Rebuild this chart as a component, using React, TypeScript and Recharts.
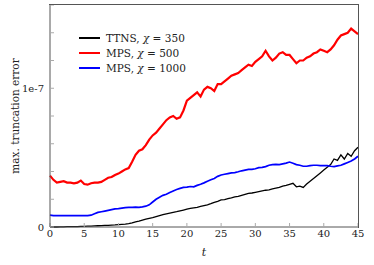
import { Label, Line, LineChart, XAxis, YAxis } from "recharts";

// values in units of 1e-8, sampled every 0.5 in t
const times = Array.from({ length: 91 }, (_, i) => i * 0.5);

const ttns350 = [
  0, 0, 0, 0.01, 0.01, 0.02, 0.02, 0.03, 0.03, 0.04,
  0.05, 0.06, 0.07, 0.08, 0.09, 0.1, 0.11, 0.12, 0.14, 0.15,
  0.17, 0.19, 0.21, 0.24, 0.3, 0.37, 0.43, 0.5, 0.56, 0.62,
  0.68, 0.75, 0.82, 0.89, 0.95, 1.0, 1.05, 1.1, 1.16, 1.22,
  1.28, 1.34, 1.38, 1.42, 1.48, 1.54, 1.6, 1.68, 1.78, 1.85,
  1.95, 1.98, 2.05, 2.1, 2.17, 2.2, 2.28, 2.35, 2.42, 2.45,
  2.5, 2.55, 2.6, 2.65, 2.68, 2.75, 2.8, 2.85, 2.95, 3.0,
  3.08, 3.15, 2.9, 2.95, 2.85, 3.1, 3.3, 3.5, 3.7, 3.9,
  4.1, 4.3, 4.5, 4.9, 4.8, 5.2, 4.9, 5.3, 5.1, 5.5,
  5.75,
];

const mps500 = [
  3.7, 3.4, 3.2, 3.25, 3.3, 3.2, 3.2, 3.15, 3.2, 3.35,
  3.1, 3.05, 3.15, 3.2, 3.2, 3.25, 3.4, 3.55, 3.6, 3.75,
  3.85, 4.0, 4.15, 4.25, 4.7, 5.2, 5.5, 5.6, 5.9, 6.3,
  6.6, 6.8, 7.1, 7.4, 7.7, 7.9, 8.0, 7.8, 7.9, 8.4,
  9.1, 9.3, 9.5, 9.7, 9.4, 9.9, 10.1, 10.0, 9.8, 10.3,
  10.3, 10.5, 10.7, 10.9, 11.0, 11.1, 11.3, 11.5, 11.7, 11.6,
  11.9, 12.1, 12.3, 12.7, 12.3, 12.0, 12.2, 12.5, 12.6, 12.4,
  12.4, 12.1, 11.8, 12.0, 12.0, 12.2, 12.3, 12.5, 12.6, 12.8,
  12.7, 12.6, 12.8, 13.1, 13.5, 13.8, 13.9, 14.0, 14.3, 14.1,
  13.9,
];

const mps1000 = [
  0.85, 0.82, 0.82, 0.82, 0.82, 0.82, 0.82, 0.82, 0.82, 0.82,
  0.82, 0.82, 0.85, 0.95, 1.05, 1.1, 1.15, 1.2, 1.25, 1.3,
  1.32, 1.36, 1.4, 1.42, 1.42, 1.43, 1.42, 1.45, 1.5, 1.6,
  1.8, 2.0, 2.15, 2.28, 2.36, 2.48, 2.6, 2.7, 2.78, 2.85,
  2.88, 2.92, 2.9, 3.0, 3.08, 3.18, 3.3, 3.4, 3.5, 3.65,
  3.75, 3.8, 3.85, 3.9, 3.92, 3.98, 4.05, 4.1, 4.15, 4.15,
  4.2, 4.28, 4.3, 4.35, 4.45, 4.5, 4.52, 4.5, 4.55, 4.6,
  4.68, 4.6, 4.5, 4.45, 4.38, 4.38, 4.42, 4.45, 4.45, 4.42,
  4.42, 4.42, 4.38, 4.35, 4.4, 4.45, 4.55, 4.65, 4.75, 4.9,
  5.1,
];

const xTicks = [0, 5, 10, 15, 20, 25, 30, 35, 40, 45];
const yTicks = [0, 2, 4, 6, 8, 10, 12, 14, 16];
const yLabels: Record<number, string> = { 0: "0", 10: "1e-7" };

const series = [
  { key: "ttns", name: "TTNS", chi: "350", color: "#000000", width: 1.3 },
  { key: "mps500", name: "MPS", chi: "500", color: "#ff0000", width: 2.2 },
  { key: "mps1000", name: "MPS", chi: "1000", color: "#0000ff", width: 1.7 },
];

const data = times.map((t, i) => ({
  t,
  ttns: ttns350[i],
  mps500: mps500[i],
  mps1000: mps1000[i],
}));

const font = "'DejaVu Serif', serif";
const tickStyle = { fill: "#222", fontSize: 10, fontFamily: font };

function LegendBox() {
  return (
    <div style={{ position: "absolute", top: 30, left: 79, fontFamily: font, fontSize: 10.5, color: "#222" }}>
      {series.map((s) => (
        <div key={s.key} style={{ display: "flex", alignItems: "center", height: 15 }}>
          <span
            style={{
              display: "inline-block",
              width: 21,
              height: 2,
              background: s.color,
              marginRight: 6,
            }}
          />
          <span>
            {s.name}, <i>χ</i> = {s.chi}
          </span>
        </div>
      ))}
    </div>
  );
}

export default function App() {
  return (
    <div style={{ position: "absolute", left: 0, top: 0, width: 374, height: 265, background: "#fff" }}>
      <LineChart width={374} height={265} data={data} margin={{ top: 5, right: 16, left: 0, bottom: 0 }}>
        <XAxis
          dataKey="t"
          type="number"
          domain={[0, 45]}
          ticks={xTicks}
          interval={0}
          height={38}
          tickSize={-4}
          tickMargin={7}
          axisLine={{ stroke: "#555" }}
          tickLine={{ stroke: "#aaa" }}
          tick={tickStyle}
        >
          <Label
            value="t"
            position="insideBottom"
            offset={9}
            style={{ fontStyle: "italic", fontFamily: font, fontSize: 11, fill: "#222" }}
          />
        </XAxis>
        <YAxis
          type="number"
          domain={[0, 16]}
          ticks={yTicks}
          interval={0}
          width={50}
          tickSize={-4}
          tickMargin={10}
          tickFormatter={(v: number) => yLabels[v] ?? ""}
          axisLine={{ stroke: "#555" }}
          tickLine={{ stroke: "#aaa" }}
          tick={tickStyle}
        >
          <Label
            value="max. truncation error"
            angle={-90}
            position="insideLeft"
            offset={15}
            style={{ textAnchor: "middle", fontFamily: font, fontSize: 10.5, fill: "#222" }}
          />
        </YAxis>
        {series.map((s) => (
          <Line
            key={s.key}
            dataKey={s.key}
            stroke={s.color}
            strokeWidth={s.width}
            dot={false}
            activeDot={false}
            isAnimationActive={false}
          />
        ))}
      </LineChart>
      {/* closing frame of the plot box (top and right sides) */}
      <div
        style={{
          position: "absolute",
          left: 49,
          top: 4,
          width: 310,
          height: 224,
          boxSizing: "border-box",
          borderTop: "1px solid #555",
          borderRight: "1px solid #555",
          pointerEvents: "none",
        }}
      />
      <LegendBox />
    </div>
  );
}
